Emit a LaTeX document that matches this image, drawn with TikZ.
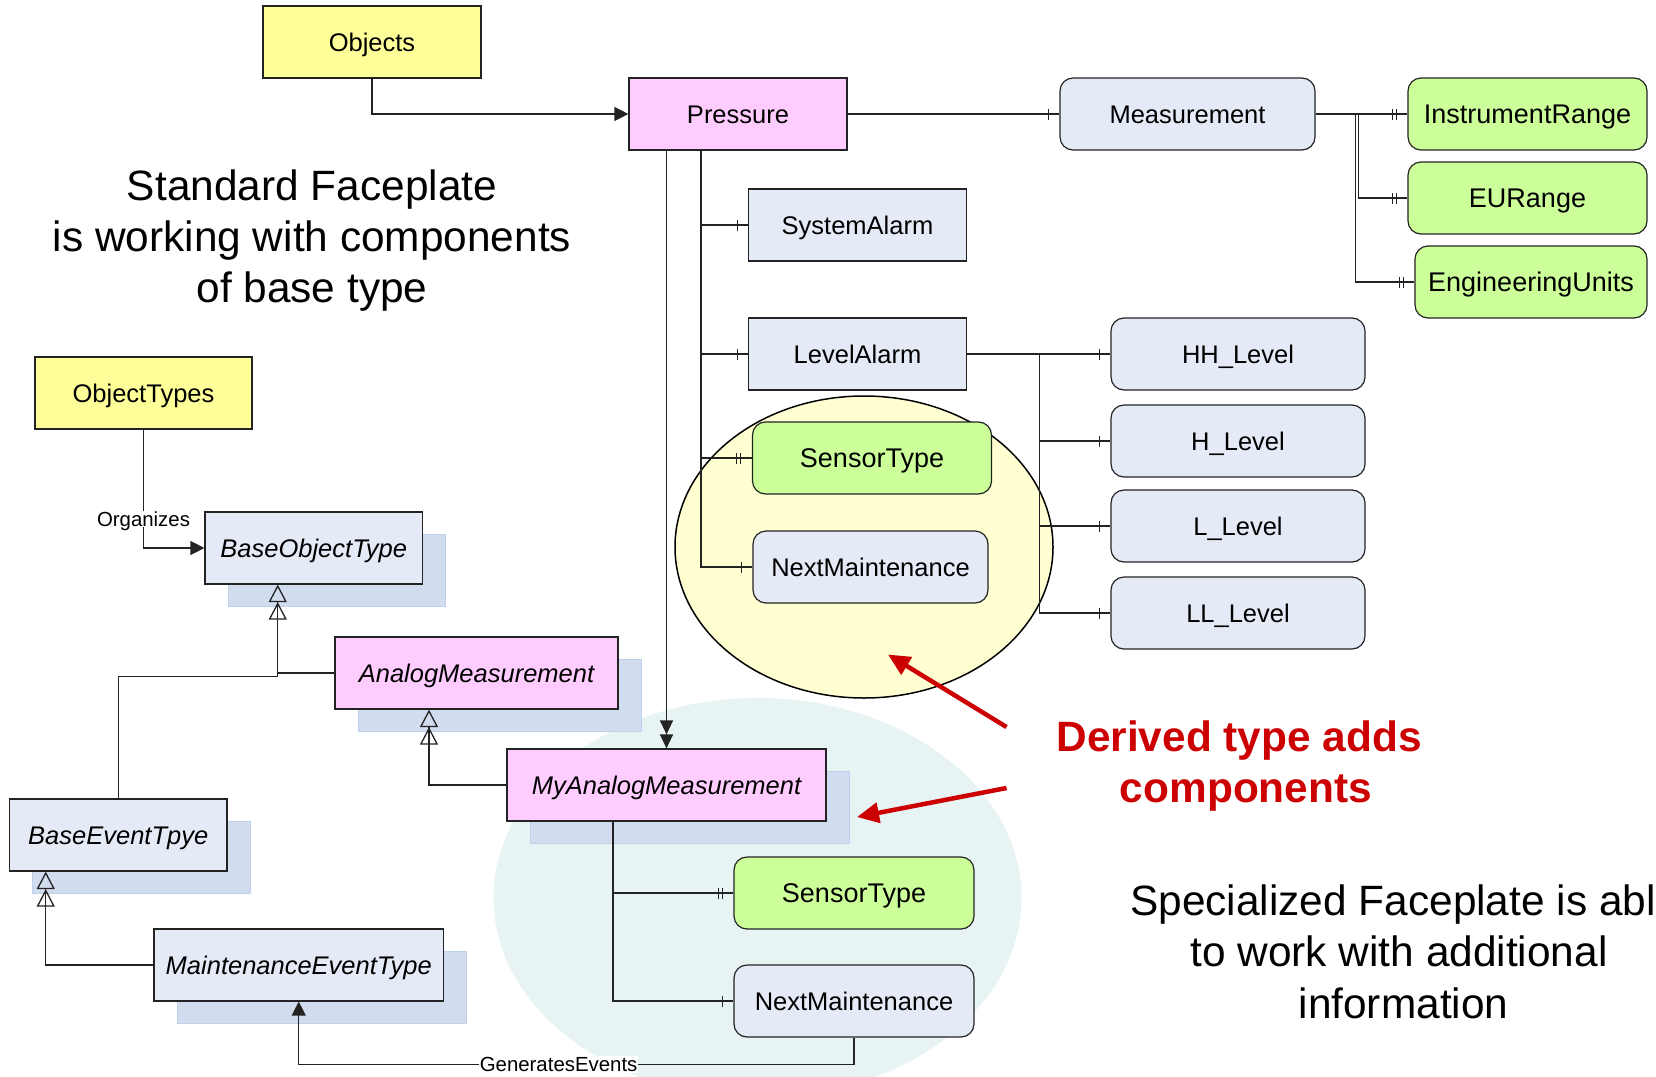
\documentclass[tikz,border=0pt]{standalone}
\usepackage{fontspec}
\setmainfont{Liberation Sans}
\usetikzlibrary{arrows.meta,calc,decorations.markings,shadows}
\definecolor{ylw}{RGB}{255,255,153}
\definecolor{pnk}{RGB}{255,204,255}
\definecolor{blu}{RGB}{229,235,246}
\definecolor{grn}{RGB}{204,255,153}
\definecolor{shd}{RGB}{209,220,238}
\definecolor{shdline}{RGB}{190,208,236}
\definecolor{ellY}{RGB}{255,255,210}
\definecolor{ellC}{RGB}{232,244,244}
\definecolor{redc}{RGB}{204,0,0}
\definecolor{edge}{RGB}{35,35,35}
\begin{document}
\begin{tikzpicture}[x=1pt,y=-1pt,
  nd/.style={draw=edge, line width=1.2pt, minimum height=72pt, inner sep=0pt,
    font=\fontsize{25.5}{30}\selectfont, text height=18.3pt, text depth=0pt},
  blubox/.style={nd, fill=blu},
  rblu/.style={nd, fill=blu, rounded corners=13pt},
  rgrn/.style={nd, fill=grn, rounded corners=13pt, font=\fontsize{27}{32}\selectfont, text height=19.3pt},
  typebox/.style={nd, font=\fontsize{25.5}{30}\selectfont\itshape,
    drop shadow={shadow xshift=23pt, shadow yshift=-22pt, opacity=1, fill=shd, draw=shdline, line width=1pt}},
  conn/.style={draw=edge, line width=1.3pt},
  fillarr/.style={conn, -{Triangle[length=14pt,width=14pt]}},
  dblarr/.style={conn, -{Triangle[length=14pt,width=13pt] Triangle[length=14pt,width=13pt]}},
  inh/.style={conn, -{Triangle[open,length=17.5pt,width=18pt] Triangle[open,length=17.5pt,width=18pt]}},
  onetick/.style={postaction={decorate,decoration={markings,
    mark=at position 1 with {\draw[draw=edge,line width=1.2pt] (-11pt,-5.5pt)--(-11pt,5.5pt);}}}},
  twotick/.style={postaction={decorate,decoration={markings,
    mark=at position 1 with {\draw[draw=edge,line width=1pt] (-11pt,-5.5pt)--(-11pt,5.5pt) (-15pt,-5.5pt)--(-15pt,5.5pt);}}}},
  lbl/.style={fill=white, inner sep=1pt, font=\fontsize{20.4}{24}\selectfont, text height=14.6pt, text depth=0pt},
  bigtxt/.style={anchor=base, inner sep=0pt, font=\fontsize{42.4}{51.7}\selectfont},
  redtxt/.style={anchor=base, inner sep=0pt, text=redc, font=\fontsize{42.4}{51.7}\selectfont\bfseries},
  redarr/.style={draw=redc, line width=4.5pt, -{Triangle[length=22pt,width=20pt]}}
]
\useasboundingbox (0,0) rectangle (1656,1076);
\begin{scope}
\clip (0,0) rectangle (1656,1076);
\fill[ellC] (757.5,898) ellipse [x radius=264pt, y radius=200pt];
\end{scope}
\filldraw[fill=ellY, draw=black, line width=1.5pt] (864,547) ellipse [x radius=189pt, y radius=151pt];

% nodes
\node[nd, fill=ylw, minimum width=218pt] (obj) at (372,42) {Objects};
\node[nd, fill=pnk, minimum width=218pt] (p) at (738,114) {Pressure};
\node[rblu, minimum width=255pt] (meas) at (1187.5,114) {Measurement};
\node[rgrn, minimum width=239pt] (ir) at (1527.5,114) {InstrumentRange};
\node[rgrn, minimum width=239pt] (eur) at (1527.5,198) {EURange};
\node[rgrn, minimum width=232pt] (eu) at (1531,282) {EngineeringUnits};
\node[blubox, minimum width=217.5pt] (sa) at (857.5,225) {SystemAlarm};
\node[blubox, minimum width=217.5pt] (la) at (857.5,354) {LevelAlarm};
\node[rblu, minimum width=254pt] (hh) at (1238,354) {HH\_Level};
\node[rblu, minimum width=254pt] (hl) at (1238,441) {H\_Level};
\node[rblu, minimum width=254pt] (lo) at (1238,526) {L\_Level};
\node[rblu, minimum width=254pt] (llo) at (1238,613) {LL\_Level};
\node[rgrn, minimum width=239pt] (st1) at (872,458) {SensorType};
\node[rblu, minimum width=235pt] (nm1) at (870.5,567) {NextMaintenance};
\node[nd, fill=ylw, minimum width=217pt] (ot) at (143.5,393) {ObjectTypes};
\node[typebox, fill=blu, minimum width=217.5pt] (bot) at (313.75,548) {BaseObjectType};
\node[typebox, fill=pnk, minimum width=283pt] (am) at (476.5,673) {AnalogMeasurement};
\node[typebox, fill=pnk, minimum width=319pt] (ma) at (666.5,785) {MyAnalogMeasurement};
\node[typebox, fill=blu, minimum width=217.5pt] (bet) at (118.25,835) {BaseEventTpye};
\node[typebox, fill=blu, minimum width=289.5pt] (met) at (298.75,965) {MaintenanceEventType};
\node[rgrn, minimum width=240pt] (st2) at (854,893) {SensorType};
\node[rblu, minimum width=240pt] (nm2) at (854,1001) {NextMaintenance};

% connectors
\draw[fillarr] (obj.south) |- (p.west);
\draw[conn,onetick] (p.east) -- (meas.west);
\draw[conn,twotick] (meas.east) -- (ir.west);
\draw[conn,twotick] (meas.east) -- ++(43,0) |- (eur.west);
\draw[conn,twotick] (meas.east) -- ++(40,0) |- (eu.west);
\coordinate (ptr) at ($(p.south west)+(72.7,0)$);
\draw[conn,onetick] (ptr) |- (sa.west);
\draw[conn,onetick] (ptr) |- (la.west);
\draw[conn,twotick] (ptr) |- (st1.west);
\draw[conn,onetick] (ptr) |- (nm1.west);
\draw[dblarr] (p.south -| ma.north) -- (ma.north);
\draw[conn,onetick] (la.east) -- ++(72.5,0) |- (hh.west);
\draw[conn,onetick] (la.east) -- ++(72.5,0) |- (hl.west);
\draw[conn,onetick] (la.east) -- ++(72.5,0) |- (lo.west);
\draw[conn,onetick] (la.east) -- ++(72.5,0) |- (llo.west);
\draw[fillarr] (ot.south) |- (bot.west) node[lbl,pos=0.378] (org) {Organizes};
\coordinate (botin) at ($(bot.south)+(-36,0)$);
\draw[inh] (am.west) -| (botin);
\draw[conn] (bet.north) |- ($(botin)+(0,91.7)$) -- ($(botin)+(0,88.7)$);
\coordinate (amin) at ($(am.south)+(-47.5,0)$);
\draw[inh] (ma.west) -| (amin);
\coordinate (betin) at ($(bet.south)+(-72.5,0)$);
\draw[inh] (met.west) -| (betin);
\coordinate (matr) at ($(ma.south west)+(106.5,0)$);
\draw[conn,twotick] (matr) |- (st2.west);
\draw[conn,onetick] (matr) |- (nm2.west);
\draw[fillarr] (nm2.south) -- ++(0,27) -| (met.south) node[lbl,pos=0.266] (gen) {GeneratesEvents};

% texts
\node[bigtxt] (std1) at (312,200) {Standard Faceplate};
\node[bigtxt] (std2) at (312,251) {is working with components};
\node[bigtxt] (std3) at (312,302) {of base type};
\node[bigtxt, anchor=base west] (spc1) at (1130,915) {Specialized Faceplate is abl};
\node[bigtxt] (spc2) at (1399,966.5) {to work with additional};
\node[bigtxt] (spc3) at (1403.5,1018) {information};
\node[redtxt] (der1) at (1239,751) {Derived type adds};
\node[redtxt] (der2) at (1246,802) {components};

% red arrows
\coordinate (r1s) at (1006.5,727);
\coordinate (r1e) at (888,654.5);
\coordinate (r2s) at (1006.5,788);
\coordinate (r2e) at (857,817);
\draw[redarr] (r1s) -- (r1e);
\draw[redarr] (r2s) -- (r2e);
\end{tikzpicture}
\end{document}
